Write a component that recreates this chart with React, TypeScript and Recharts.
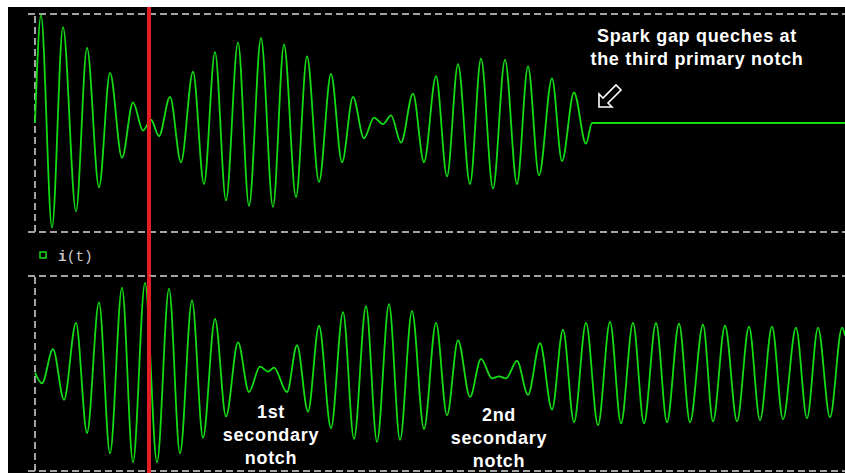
import { LineChart, Line, XAxis, YAxis, ReferenceLine } from 'recharts'

// time in microseconds, current normalised to the panel's full scale
const primaryTime = [
  0, 0.6, 1.7, 2.8, 4.1, 5.2, 6.4, 7.5, 8.7, 9.8, 10.8, 11.6, 12.4, 13.5, 14.6, 15.8, 16.9, 18.0,
  19.1, 20.3, 21.4, 22.6, 23.8, 24.9, 26.1, 27.2, 28.4, 29.6, 30.7, 31.8, 32.9, 33.9, 34.8, 35.6,
  36.6, 37.8, 38.9, 40.1, 41.2, 42.3, 43.5, 44.6, 45.8, 47.0, 48.2, 49.3, 50.4, 51.7, 52.7, 53.9,
  55.1, 55.7, 81.0,
]
const primaryCurrent = [
  0, 0.99, -0.96, 0.88, -0.81, 0.69, -0.59, 0.46, -0.32, 0.19, -0.07, 0.03, -0.12, 0.24, -0.36, 0.47,
  -0.56, 0.65, -0.71, 0.74, -0.76, 0.78, -0.77, 0.72, -0.68, 0.61, -0.54, 0.45, -0.36, 0.24, -0.14,
  0.05, -0.01, 0.07, -0.18, 0.27, -0.36, 0.43, -0.49, 0.54, -0.56, 0.59, -0.6, 0.58, -0.56, 0.52,
  -0.48, 0.41, -0.35, 0.28, -0.19, 0, 0,
]

const secondaryTime = [
  0, 0.7, 1.8, 2.9, 4.1, 5.2, 6.4, 7.5, 8.7, 9.8, 11.0, 12.2, 13.4, 14.5, 15.7, 16.8, 18.0, 19.1,
  20.3, 21.4, 22.5, 23.3, 23.9, 25.2, 26.2, 27.3, 28.4, 29.6, 30.8, 31.9, 33.1, 34.2, 35.4, 36.5,
  37.7, 38.9, 40.1, 41.2, 42.3, 43.5, 44.6, 45.7, 46.4, 47.1, 48.2, 49.3, 50.5, 51.7, 52.8, 53.9,
  55.1, 56.3, 57.5, 58.6, 59.8, 60.9, 62.1, 63.2, 64.4, 65.5, 66.8, 67.8, 69.0, 70.2, 71.4, 72.5,
  73.7, 74.8, 76.1, 77.2, 78.3, 79.5, 80.7, 81.0,
]
const secondaryCurrent = [
  0.01, -0.1, 0.25, -0.27, 0.52, -0.61, 0.73, -0.82, 0.88, -0.91, 0.93, -0.91, 0.87, -0.82, 0.75,
  -0.66, 0.56, -0.44, 0.32, -0.19, 0.07, 0.02, 0.06, -0.19, 0.29, -0.39, 0.49, -0.56, 0.63, -0.67,
  0.69, -0.7, 0.71, -0.68, 0.64, -0.57, 0.52, -0.43, 0.34, -0.24, 0.15, -0.05, -0.03, -0.05, 0.13,
  -0.22, 0.31, -0.37, 0.45, -0.5, 0.52, -0.53, 0.53, -0.51, 0.52, -0.51, 0.52, -0.5, 0.51, -0.5,
  0.5, -0.49, 0.49, -0.49, 0.48, -0.48, 0.48, -0.47, 0.47, -0.46, 0.47, -0.45, 0.47, 0.39,
]

const cursorTime = 11.4
const timeStart = 0
const timeEnd = 81

const primaryNote = ['Spark gap queches at', 'the third primary notch']
const firstNotch = ['1st', 'secondary', 'notch']
const secondNotch = ['2nd', 'secondary', 'notch']

const primaryData = primaryTime.map((t, i) => ({ t, i: primaryCurrent[i] }))
const secondaryData = secondaryTime.map((t, i) => ({ t, i: secondaryCurrent[i] }))

const GREEN = '#14dc14'
const RED = '#e41c24'
const GRID = '#a4a4a4'
const labelFont = { fontFamily: '"Liberation Sans", Arial, sans-serif', fontWeight: 700, fontSize: 18, letterSpacing: 0.7 }

function Frame({ lo, hi }: { lo: number; hi: number }) {
  return (
    <>
      <ReferenceLine segment={[{ x: -0.7, y: hi }, { x: timeEnd, y: hi }]} stroke={GRID} strokeWidth={2} strokeDasharray="7 4" ifOverflow="visible" />
      <ReferenceLine segment={[{ x: -0.7, y: lo }, { x: timeEnd, y: lo }]} stroke={GRID} strokeWidth={2} strokeDasharray="7 4" ifOverflow="visible" />
      <ReferenceLine segment={[{ x: timeStart, y: lo }, { x: timeStart, y: hi }]} stroke={GRID} strokeWidth={2} strokeDasharray="7 4" ifOverflow="visible" />
    </>
  )
}

export default function App() {
  return (
    <div style={{ position: 'fixed', left: 8, top: 7, width: 837, height: 466, background: '#000', overflow: 'hidden' }}>
      <div style={{ position: 'absolute', left: 0, top: 0 }}>
        <LineChart width={837} height={270} data={primaryData} margin={{ top: 7, right: 0, bottom: 45, left: 27 }}>
          <XAxis hide dataKey="t" type="number" domain={[timeStart, timeEnd]} />
          <YAxis hide domain={[-1, 1]} />
          {Frame({ lo: -1, hi: 1 })}
          <Line dataKey="i" type="monotone" stroke={GREEN} strokeWidth={1.8} dot={false} isAnimationActive={false} />
          <ReferenceLine segment={[{ x: cursorTime, y: 1.07 }, { x: cursorTime, y: -1.41 }]} stroke={RED} strokeWidth={4} ifOverflow="visible" />
        </LineChart>
      </div>
      <div style={{ position: 'absolute', left: 0, top: 233 }}>
        <LineChart width={837} height={233} data={secondaryData} margin={{ top: 36, right: 0, bottom: 2, left: 27 }}>
          <XAxis hide dataKey="t" type="number" domain={[timeStart, timeEnd]} />
          <YAxis hide domain={[-1, 1]} />
          {Frame({ lo: -1, hi: 1 })}
          <Line dataKey="i" type="monotone" stroke={GREEN} strokeWidth={1.8} dot={false} isAnimationActive={false} />
          <ReferenceLine segment={[{ x: cursorTime, y: 1 }, { x: cursorTime, y: -1.03 }]} stroke={RED} strokeWidth={4} ifOverflow="visible" />
        </LineChart>
      </div>
      <svg width={837} height={466} style={{ position: 'absolute', left: 0, top: 0, pointerEvents: 'none' }}>
        <g fill="#fff" textAnchor="middle" style={labelFont}>
          {primaryNote.map((s, k) => (
            <text key={s} x={689} y={35 + k * 23}>{s}</text>
          ))}
          {firstNotch.map((s, k) => (
            <text key={'a' + k} x={263} y={411 + k * 23}>{s}</text>
          ))}
          {secondNotch.map((s, k) => (
            <text key={'b' + k} x={491} y={414 + k * 23}>{s}</text>
          ))}
        </g>
        <polygon
          transform="translate(590,78)"
          points="1,22 1,9 5,13 18,0 23,5 10,18 14,22"
          fill="none"
          stroke="#fff"
          strokeWidth={1.6}
        />
        <rect x={32} y={245} width={6} height={6} fill="none" stroke={GREEN} strokeWidth={1.5} />
        <text x={50} y={254} fill="#c8c8c8" style={{ fontFamily: '"Liberation Mono", "Courier New", monospace', fontSize: 14.5 }}>
          <tspan fontWeight={700}>i</tspan>(t)
        </text>
      </svg>
    </div>
  )
}
